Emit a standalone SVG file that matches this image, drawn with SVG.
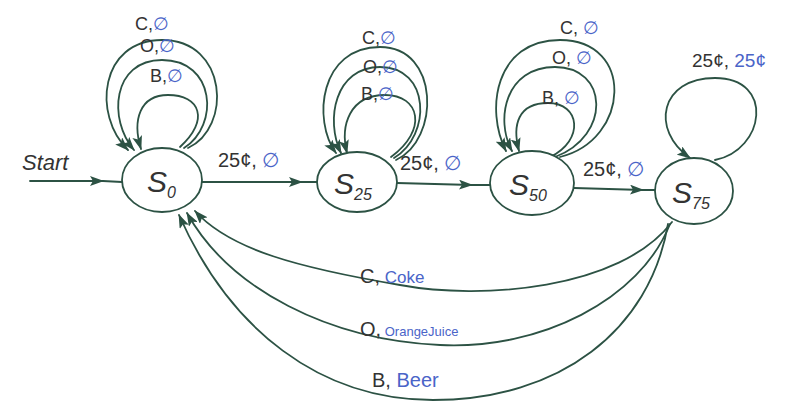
<svg xmlns="http://www.w3.org/2000/svg" width="812" height="402" viewBox="0 0 812 402">
<style>
.e{fill:none;stroke:#2c5244;stroke-width:1.8;stroke-linecap:round}
.st{fill:#fff;stroke:#2c5244;stroke-width:1.8}
.k{font-family:"Liberation Sans",sans-serif;fill:#333}
.b{font-family:"Liberation Sans",sans-serif;fill:#4a64c8}
.lbl{font-size:18px}
.sl{font-family:"Liberation Sans",sans-serif;fill:#333;font-size:30px;font-style:italic}
</style>
<defs>
<marker id="ah" markerUnits="userSpaceOnUse" markerWidth="14" markerHeight="10" refX="13" refY="5" orient="auto">
<path d="M0,0 L14,5 L0,10 L3,5 Z" fill="#2c5244"/>
</marker>
</defs>
<rect width="812" height="402" fill="#fff"/>
<g id="connectors">
<path class="e" d="M30 181 L103 181" marker-end="url(#ah)"/><path class="e" d="M103 181 L122 182"/>
<path class="e" d="M202 182 L302 182" marker-end="url(#ah)"/><path class="e" d="M302 182 L318 182"/>
<path class="e" d="M397 183 L472 185" marker-end="url(#ah)"/><path class="e" d="M472 185 L490 185"/>
<path class="e" d="M574 188 L643 190" marker-end="url(#ah)"/><path class="e" d="M643 190 L655 190"/>
<path class="e" d="M188 148 C232 128, 228 40, 162 40 C100 40, 92 115, 128 150" marker-end="url(#ah)"/>
<path class="e" d="M184 148 C220 125, 215 60, 162 60 C112 60, 108 120, 134 150" marker-end="url(#ah)"/>
<path class="e" d="M180 147 C210 120, 200 95, 168 95 C140 95, 132 120, 141 149" marker-end="url(#ah)"/>
<path class="e" d="M396 160 C440 140, 440 47, 380 47 C320 47, 312 120, 336 153" marker-end="url(#ah)"/>
<path class="e" d="M394 158 C432 135, 430 67, 380 67 C335 67, 325 120, 341 153" marker-end="url(#ah)"/>
<path class="e" d="M391 157 C428 130, 420 95, 385 95 C350 95, 340 125, 347 153" marker-end="url(#ah)"/>
<path class="e" d="M560 157 C630 140, 635 40, 560 40 C495 40, 485 110, 506 151" marker-end="url(#ah)"/>
<path class="e" d="M555 157 C612 135, 608 67, 555 67 C505 67, 495 120, 512 151" marker-end="url(#ah)"/>
<path class="e" d="M550 157 C585 140, 580 103, 548 103 C518 103, 512 125, 519 151" marker-end="url(#ah)"/>
<path class="e" d="M715 160 C765 150, 775 78, 715 78 C660 78, 650 130, 690 158" marker-end="url(#ah)"/>
<path class="e" d="M672 222 C620 290, 480 300, 400 285 C300 268, 230 250, 195 211" marker-end="url(#ah)"/>
<path class="e" d="M670 224 C640 300, 540 350, 440 345 C330 340, 230 290, 187 213" marker-end="url(#ah)"/>
<path class="e" d="M668 224 C650 330, 560 400, 433 400 C320 400, 230 330, 179 215" marker-end="url(#ah)"/>
</g>
<g id="labels">
<text class="k" x="22" y="170" font-size="22" font-style="italic">Start</text>
<text x="218" y="167" font-size="20"><tspan class="k">25¢,</tspan><tspan class="b"> ∅</tspan></text>
<text x="400" y="170" font-size="20"><tspan class="k">25¢,</tspan><tspan class="b"> ∅</tspan></text>
<text x="583" y="176" font-size="20"><tspan class="k">25¢,</tspan><tspan class="b"> ∅</tspan></text>
<text x="135" y="30" class="lbl"><tspan class="k">C,</tspan><tspan class="b">∅</tspan></text>
<text x="140" y="52" class="lbl"><tspan class="k">O,</tspan><tspan class="b">∅</tspan></text>
<text x="150" y="82" class="lbl"><tspan class="k">B,</tspan><tspan class="b">∅</tspan></text>
<text x="362" y="44" class="lbl"><tspan class="k">C,</tspan><tspan class="b">∅</tspan></text>
<text x="363" y="73" class="lbl"><tspan class="k">O,</tspan><tspan class="b">∅</tspan></text>
<text x="361" y="100" class="lbl"><tspan class="k">B,</tspan><tspan class="b">∅</tspan></text>
<text x="560" y="34" class="lbl"><tspan class="k">C,</tspan><tspan class="b"> ∅</tspan></text>
<text x="552" y="64" class="lbl"><tspan class="k">O,</tspan><tspan class="b"> ∅</tspan></text>
<text x="542" y="104" class="lbl"><tspan class="k">B,</tspan><tspan class="b"> ∅</tspan></text>
<text x="692" y="67" font-size="19"><tspan class="k">25¢,</tspan><tspan class="b"> 25¢</tspan></text>
<text x="360" y="283" font-size="20"><tspan class="k">C,</tspan><tspan class="b" font-size="17"> Coke</tspan></text>
<text x="360" y="336" font-size="20"><tspan class="k">O,</tspan><tspan class="b" font-size="13"> OrangeJuice</tspan></text>
<text x="372" y="387" font-size="20"><tspan class="k">B,</tspan><tspan class="b"> Beer</tspan></text>
</g>
<g id="S0"><ellipse class="st" cx="162" cy="180" rx="40" ry="32"/><text class="sl" x="147" y="192">S<tspan font-size="16" dy="6">0</tspan></text></g>
<g id="S25"><ellipse class="st" cx="357" cy="182" rx="40" ry="30"/><text class="sl" x="334" y="194">S<tspan font-size="16" dy="6">25</tspan></text></g>
<g id="S50"><ellipse class="st" cx="532" cy="183" rx="42" ry="32"/><text class="sl" x="509" y="195">S<tspan font-size="16" dy="6">50</tspan></text></g>
<g id="S75"><ellipse class="st" cx="694" cy="191" rx="39" ry="33"/><text class="sl" x="672" y="203">S<tspan font-size="16" dy="6">75</tspan></text></g>
</svg>
